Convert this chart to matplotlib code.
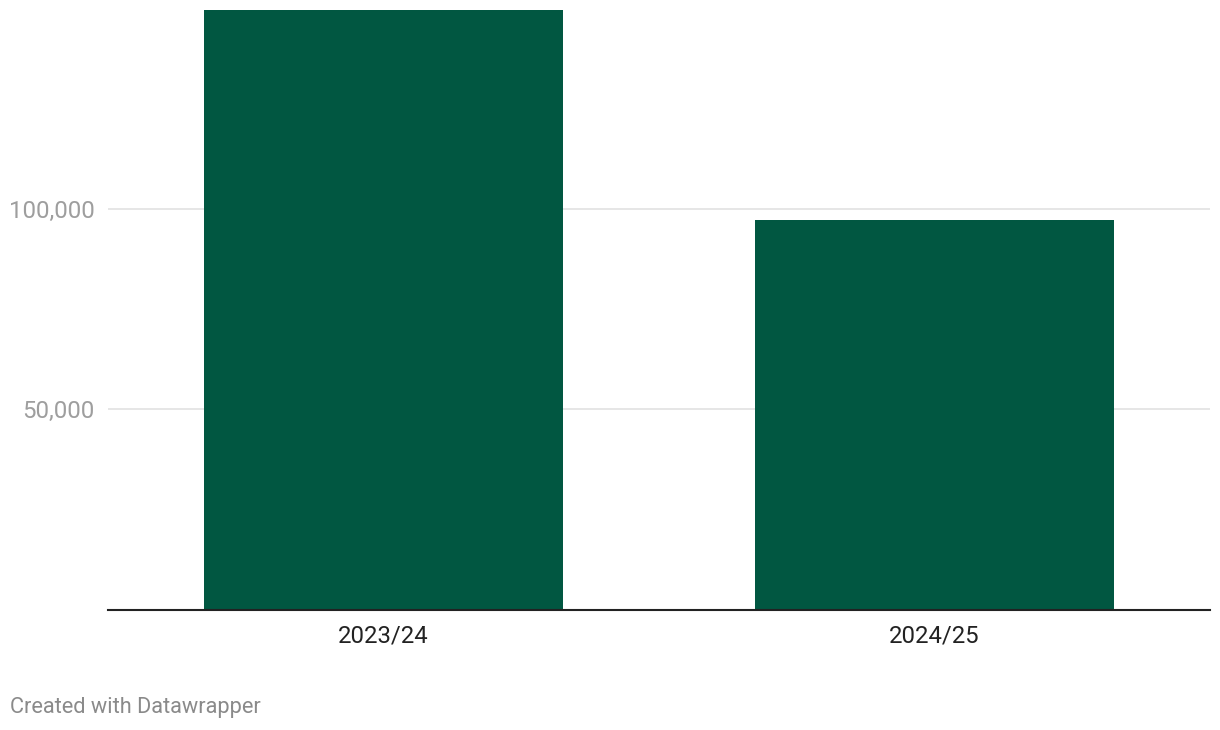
import matplotlib
matplotlib.use("Agg")
import matplotlib.pyplot as plt
from matplotlib.ticker import FuncFormatter

# data
seasons = ["2023/24", "2024/25"]
values = [149600, 97200]
ytick_vals = [50000, 100000]

bar_color = "#015741"
grid_color = "#e2e2e2"

plt.rcParams['font.family'] = ['Roboto', 'DejaVu Sans']

fig = plt.figure(figsize=(12.2, 7.3), dpi=100)
ax = fig.add_axes([108/1220, (730-609.5)/730, (1210-108)/1220, (609.5-10)/730])

x = range(len(seasons))
ax.bar(x, values, width=0.651, color=bar_color, zorder=3)

ax.set_xlim(-0.5, 1.5)
ax.set_ylim(0, max(values))

ax.set_yticks(ytick_vals)
ax.yaxis.set_major_formatter(FuncFormatter(lambda v, p: "{:,.0f}".format(v)))
ax.set_xticks(list(x))
ax.set_xticklabels(seasons)

ax.grid(axis="y", color=grid_color, linewidth=1.2, zorder=0)
ax.tick_params(axis="y", length=0, pad=9.5, labelsize=17.3, labelcolor="#9e9e9e")
ax.tick_params(axis="x", length=0, pad=10.5, labelsize=17.2, labelcolor="#222222")

for s in ["top", "right", "left"]:
    ax.spines[s].set_visible(False)
ax.spines["bottom"].set_color("#222222")
ax.spines["bottom"].set_linewidth(1.5)
ax.spines["bottom"].set_zorder(4)

fig.text(10/1220, 1 - 708/730, "Created with Datawrapper", fontsize=15.7, color="#8a8a8a",
         ha="left", va="center")

fig.savefig("out.png", dpi=100)
